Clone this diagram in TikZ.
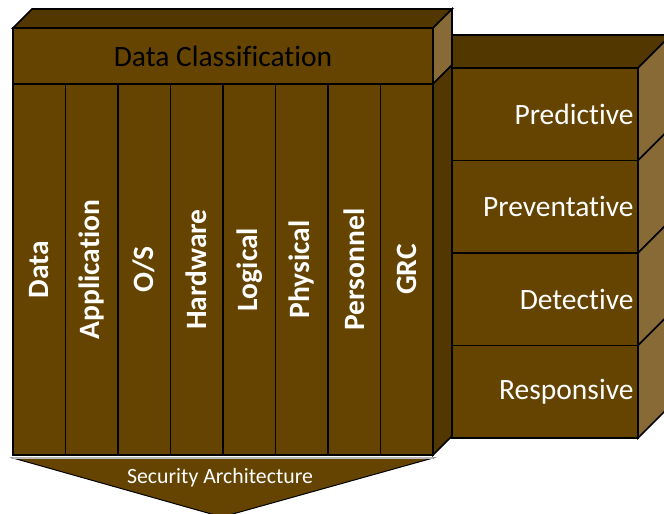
\documentclass[tikz,border=0pt]{standalone}
\usepackage{fontspec}
\setmainfont[Ligatures={NoCommon}]{Carlito}
\usepackage{tikz}
\usetikzlibrary{positioning,calc}
\definecolor{brfront}{HTML}{654300}
\definecolor{brtop}{HTML}{533700}
\definecolor{brside}{HTML}{886A37}
\tikzstyle{face} = [draw=black,line width=1.7pt,line join=miter]
\tikzstyle{classbox} = [face,fill=brfront,minimum width=420pt,minimum height=56pt,inner sep=0pt,outer sep=0pt,font=\fontsize{29.5}{32}\selectfont]
\tikzstyle{pillar} = [face,fill=brfront,minimum width=52.5pt,minimum height=371pt,inner sep=0pt,outer sep=0pt,text=white,font=\fontsize{29.5}{32}\selectfont\bfseries]
\tikzstyle{layer} = [face,fill=brfront,minimum width=187pt,minimum height=92.5pt,text width=178pt,align=right,inner sep=4.5pt,outer sep=0pt,text=white,font=\fontsize{29.5}{32}\selectfont]

\begin{document}
\begin{tikzpicture}[x=1pt,y=-1pt,node distance=0pt]
\clip (0,0) rectangle (664,514);
% response layers (right block)
\node[layer,anchor=north west] (pred) at (451,68) {Predictive};
\node[layer] (prev) [below = of pred] {Preventative};
\node[layer] (det) [below = of prev] {Detective};
\node[layer] (resp) [below = of det] {Responsive};
\coordinate (predcorner) at (418,68);
\draw[face,fill=brtop] (predcorner) -- ++(33,-33) -- ($(pred.north east)+(33,-33)$) -- (pred.north east) -- cycle;
\foreach \r in {pred,prev,det,resp}
  \draw[face,fill=brside] (\r.north east) -- ++(33,-33) -- ($(\r.south east)+(33,-33)$) -- (\r.south east) -- cycle;
% data classification
\node[classbox,anchor=north west] (dc) at (13,28) {Data Classification};
\draw[face,fill=brtop] (dc.north west) -- ++(19,-19) -- ($(dc.north east)+(19,-19)$) -- (dc.north east) -- cycle;
\draw[face,fill=brside] (dc.north east) -- ++(19,-19) -- ($(dc.south east)+(19,-19)$) -- (dc.south east) -- cycle;
% pillars
\node[pillar,anchor=north west] (data) at (dc.south west) {\rotatebox{90}{Data}};
\node[pillar] (app) [right = of data] {\rotatebox{90}{Application}};
\node[pillar] (os) [right = of app] {\rotatebox{90}{O/S}};
\node[pillar] (hw) [right = of os] {\rotatebox{90}{Hardware}};
\node[pillar] (logic) [right = of hw] {\rotatebox{90}{Logical}};
\node[pillar] (phys) [right = of logic] {\rotatebox{90}{Physical}};
\node[pillar] (pers) [right = of phys] {\rotatebox{90}{Personnel}};
\node[pillar] (grc) [right = of pers] {\rotatebox{90}{GRC}};
\draw[face,fill=brtop] (grc.north east) -- ++(19,-19) -- ($(grc.south east)+(19,-19)$) -- (grc.south east) -- cycle;
% security architecture arrow
\coordinate (arrowl) at ($(data.south west)+(0,3)$);
\coordinate (arrowr) at ($(grc.south east)+(0,3)$);
\coordinate (tip) at (222,517);
\draw[draw=black,line width=1pt,fill=brfront] (arrowl) -- (arrowr) -- (tip) -- cycle;
\draw[gray!55,line width=2pt] (arrowl) -- (arrowr);
\node[inner sep=0pt,text=white,font=\fontsize{21.8}{24}\selectfont] (secarch) at (220,478) {Security Architecture};
\end{tikzpicture}
\end{document}
